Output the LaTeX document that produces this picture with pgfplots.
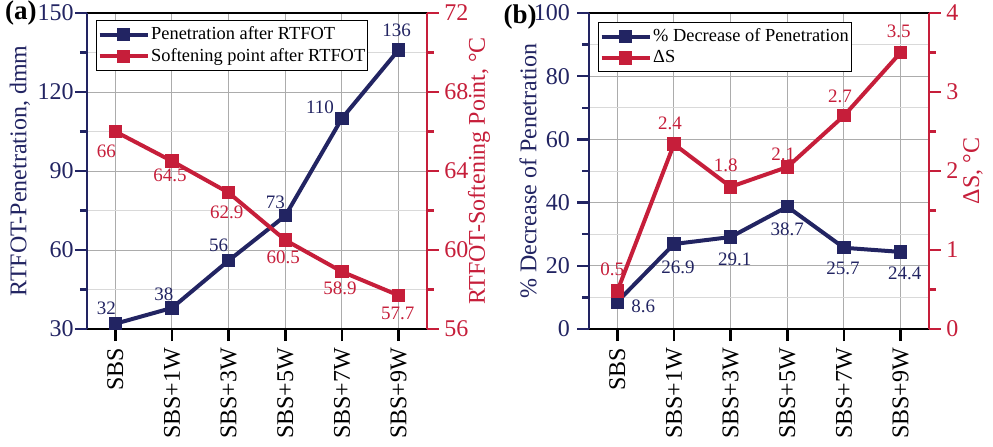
\documentclass[border=0pt]{standalone}
\usepackage{fontspec}
\setmainfont{Liberation Serif}
\usepackage{pgfplots}
\pgfplotsset{compat=1.18}
\definecolor{navyc}{RGB}{34,36,98}
\definecolor{redc}{RGB}{198,30,58}
\pgfplotsset{
  base/.style={
    scale only axis, width=170pt, height=158pt,
    xmin=-0.5, xmax=5.5, xtick={0,...,5},
    /pgf/number format/assume math mode=true,
    tick align=outside,
    major tick length=6pt, minor tick length=3.5pt,
    every tick label/.append style={font=\rmfamily\fontsize{12}{13}\selectfont},
    label style={font=\rmfamily\fontsize{12}{13}\selectfont},
    minor y tick num=1,
    clip=false,
  },
  leftax/.style={base,
    xticklabels={SBS,SBS+1W,SBS+3W,SBS+5W,SBS+7W,SBS+9W},
    x tick label style={rotate=90, anchor=east},
    xtick pos=bottom, ytick pos=left,
    separate axis lines,
    x axis line style={black, line width=1.2pt},
    y axis line style={navyc, line width=1.2pt},
    y tick style={navyc, line width=1.2pt},
    x tick style={black, line width=1.2pt},
    yticklabel style={text=navyc},
    grid=both,
    major grid style={gray!65, line width=0.5pt},
    minor grid style={gray!30, line width=0.5pt},
  },
  rightax/.style={base,
    axis x line=none, axis y line*=right,
    y axis line style={redc, line width=1.2pt},
    y tick style={redc, line width=1.2pt},
    yticklabel style={text=redc, inner xsep=2.5pt},
    legend style={draw=black, line width=0.6pt, fill=white,
      font=\rmfamily\fontsize{9.2}{10.5}\selectfont, anchor=north west,
      inner xsep=0.5pt, inner ysep=1.5pt, row sep=0pt,
      nodes={inner xsep=0.8pt, inner ysep=1.5pt}},
    legend cell align=left,
    legend image code/.code={\draw[mark repeat=2,mark phase=2,#1] plot coordinates {(0pt,0pt)(12pt,0pt)(24pt,0pt)};},
  },
  navyline/.style={navyc, line width=2pt, mark=square*, mark size=3.1pt,
    mark options={solid, fill=navyc, line width=0.5pt}},
  redline/.style={redc, line width=2pt, mark=square*, mark size=3.1pt,
    mark options={solid, fill=redc, line width=0.5pt}},
  lbl/.style={nodes near coords, point meta=explicit symbolic,
    visualization depends on={value \thisrow{dx}\as\dx},
    visualization depends on={value \thisrow{dy}\as\dy},
    every node near coord/.append style={anchor=center, xshift=\dx pt, yshift=\dy pt,
      font=\rmfamily\fontsize{9.5}{10}\selectfont, text=#1, inner sep=0pt}},
}
\begin{document}
\begin{tikzpicture}
% ---------------- panel (a)
\begin{axis}[leftax, name=a1, ymin=30, ymax=150, ytick={30,60,...,150},
  yticklabel style={inner xsep=0.5pt},
  ylabel={RTFOT-Penetration, dmm},
  ylabel style={at={([xshift=-33.5pt]axis description cs:0,0.5)}, anchor=center, text=navyc}]
\addplot[navyline, lbl=navyc] table[x=x, y=y, meta=lab] {
x y lab dx dy
0 32 32 -4.5 7.5
1 38 38 -4 7
2 56 56 -5 7.5
3 73 73 -5 6.5
4 110 110 -11 5.5
5 136 136 -1 10
};
\end{axis}
\begin{axis}[rightax, ymin=56, ymax=72, ytick={56,60,...,72},
  ylabel={RTFOT-Softening Point, °C},
  ylabel style={at={([xshift=26pt]axis description cs:1,0.5)}, anchor=center, text=redc},
  legend style={at={(axis description cs:0.0265,0.978)}}]
\addlegendimage{navyline}
\addlegendentry{Penetration after RTFOT}
\addplot[redline, lbl=redc] table[x=x, y=y, meta=lab] {
x y lab dx dy
0 66 66 -4.5 -10
1 64.5 64.5 -1 -7
2 62.9 62.9 -1 -10
3 60.5 60.5 -1 -8.8
4 58.9 58.9 -1 -8.3
5 57.7 57.7 -0.5 -9.2
};
\addlegendentry{Softening point after RTFOT}
\end{axis}
\node[anchor=east, font=\rmfamily\bfseries\fontsize{13.5}{13.5}\selectfont, inner sep=0pt] at ([xshift=-25pt]a1.north west) {(a)};
% ---------------- panel (b)
\begin{axis}[leftax, name=b1, xshift=251pt, ymin=0, ymax=100, ytick={0,20,...,100},
  ylabel={\% Decrease of Penetration},
  ylabel style={at={([xshift=-30.5pt]axis description cs:0,0.5)}, anchor=center, text=navyc}]
\addplot[navyline, lbl=navyc] table[x=x, y=y, meta=lab] {
x y lab dx dy
0 8.6 8.6 13 -2
1 26.9 26.9 2 -11.5
2 29.1 29.1 2 -11
3 38.7 38.7 0 -11.5
4 25.7 25.7 -0.5 -10.5
5 24.4 24.4 2 -10.5
};
\end{axis}
\begin{axis}[rightax, xshift=251pt, ymin=0, ymax=4, ytick={0,...,4},
  ylabel={ΔS, °C},
  ylabel style={at={([xshift=22pt]axis description cs:1,0.5)}, anchor=center, text=redc},
  legend style={at={(axis description cs:0.0265,0.9715)}}]
\addlegendimage{navyline}
\addlegendentry{\% Decrease of Penetration}
\addplot[redline, lbl=redc] table[x=x, y=y, meta=lab] {
x y lab dx dy
0 0.48 0.5 -2.5 11
1 2.34 2.4 -2 10.5
2 1.8 1.8 -2.5 10.5
3 2.05 2.1 -2 6.5
4 2.7 2.7 -2 9.5
5 3.5 3.5 -1 10.5
};
\addlegendentry{ΔS}
\end{axis}
\node[anchor=east, font=\rmfamily\bfseries\fontsize{13.5}{13.5}\selectfont, inner sep=0pt] at ([xshift=-26pt, yshift=-2pt]b1.north west) {(b)};
\pgfresetboundingbox
\path[use as bounding box] ([shift={(-43.5pt,-58.5pt)}]a1.south west) rectangle ([shift={(453pt,164.5pt)}]a1.south west);
\end{tikzpicture}
\end{document}
